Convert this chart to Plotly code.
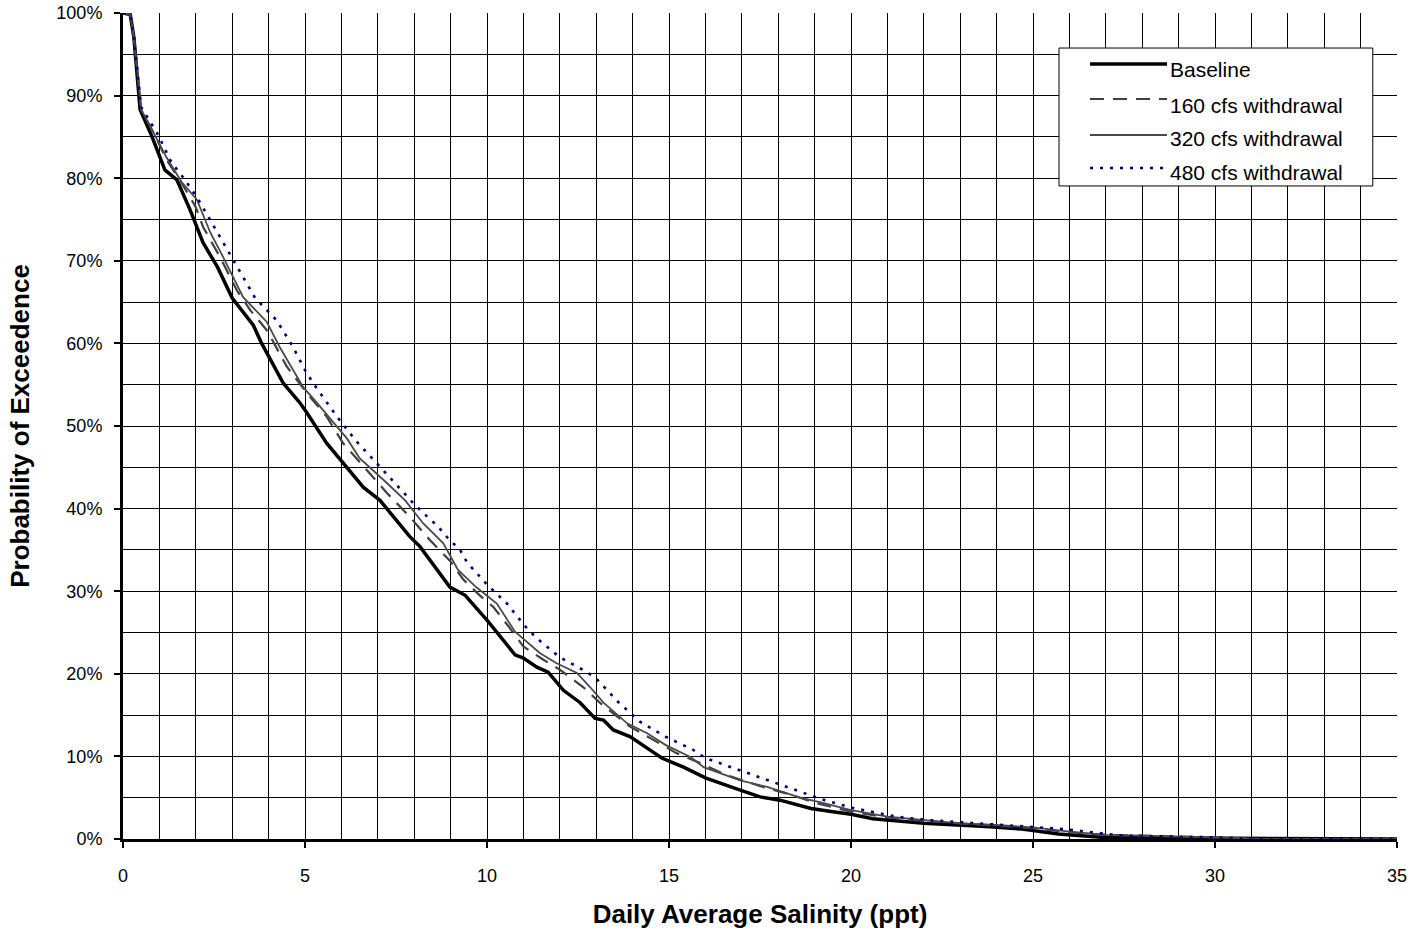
import plotly.graph_objects as go

# Baseline
base_x = [0, 0.2, 0.3, 0.47, 0.8, 1.15, 1.48, 1.84, 2.2, 2.6, 3.0, 3.58, 3.81, 4.4, 4.86, 5.05,
          5.6, 6.15, 6.6, 7.06, 7.42, 7.88, 8.16, 8.63, 8.98, 9.4, 10.0, 10.77, 11.0, 11.37,
          11.68, 12.1, 12.56, 12.97, 13.2, 13.47, 13.93, 14.4, 14.8, 15.4, 16.0, 16.7, 17.5,
          18.05, 18.6, 18.9, 19.5, 20.0, 20.6, 22.0, 23.7, 24.7, 25.7, 26.5, 26.9, 28.0, 30.8, 31.0, 35.0]
base_y = [100, 99.8, 97, 88.3, 85, 81, 79.8, 76.2, 72.2, 69.2, 65.5, 62.2, 60.0, 55.2, 52.8, 51.6,
          47.9, 45.0, 42.6, 41.0, 39.0, 36.6, 35.4, 32.6, 30.5, 29.5, 26.5, 22.3, 21.9, 20.8,
          20.2, 18.0, 16.5, 14.6, 14.4, 13.2, 12.4, 11.0, 9.8, 8.7, 7.4, 6.3, 5.1,
          4.7, 4.0, 3.7, 3.3, 3.0, 2.45, 1.9, 1.5, 1.2, 0.6, 0.3, 0.2, 0.15, 0.1, 0.0, 0.0]

# 160 cfs withdrawal
w160_x = [0, 0.2, 0.3, 0.5, 0.9, 1.2, 1.6, 2.0, 2.2, 2.66, 3.13, 3.5, 3.95, 4.5, 5.05, 5.6, 6.05,
          6.7, 7.25, 7.88, 8.43, 8.98, 9.35, 9.8, 10.17, 10.6, 11.0, 11.55, 12.0, 12.64, 13.1,
          13.47, 13.93, 14.57, 15.2, 15.85, 16.6, 17.58, 18.4, 19.0, 20.0, 21.0, 22.0, 23.0,
          24.0, 25.0, 26.0, 27.0, 28.0, 30.0, 30.8, 31.0, 35.0]
w160_y = [100, 99.8, 97, 88.3, 85, 82.2, 79.5, 76.5, 74.1, 70.5, 66.4, 64.0, 61.6, 57.2, 54.0, 51.1, 47.9,
          44.7, 41.9, 39.0, 36.2, 33.7, 31.4, 29.5, 28.1, 25.7, 23.3, 21.7, 20.5, 18.4, 16.5,
          15.2, 13.6, 12.0, 10.4, 9.2, 7.7, 6.3, 5.3, 4.4, 3.3, 2.6, 2.2, 1.9,
          1.6, 1.3, 0.8, 0.5, 0.4, 0.2, 0.1, 0.0, 0.0]

# 320 cfs withdrawal
w320_x = [0, 0.2, 0.3, 0.5, 0.9, 1.2, 1.6, 2.03, 2.4, 2.7, 3.3, 3.95, 4.3, 4.95, 5.27, 5.87, 6.15,
          6.5, 6.78, 7.25, 7.75, 8.25, 8.8, 9.2, 9.7, 10.27, 10.77, 11.46, 11.9, 12.47, 12.83,
          13.2, 13.85, 14.4, 14.9, 15.6, 15.95, 16.95, 17.7, 18.6, 19.2, 20.0, 21.0, 22.0, 23.0,
          24.0, 25.0, 26.0, 27.0, 28.0, 30.0, 30.8, 31.0, 35.0]
w320_y = [100, 99.8, 97, 88.3, 85, 82.5, 79.6, 77.4, 73.4, 70.9, 65.6, 62.6, 59.6, 54.7, 53.1, 49.9, 48.5,
          46.1, 45.0, 43.1, 41.0, 38.2, 35.8, 32.6, 30.5, 28.5, 25.1, 22.5, 21.3, 20.1, 18.4,
          16.5, 14.0, 12.8, 11.4, 9.9, 8.7, 7.1, 6.3, 5.0, 4.4, 3.5, 2.7, 2.3, 1.9,
          1.7, 1.4, 0.9, 0.5, 0.4, 0.2, 0.1, 0.0, 0.0]

# 480 cfs withdrawal
w480_x = [0, 0.2, 0.3, 0.5, 0.97, 1.34, 1.57, 2.03, 2.44, 3.03, 3.63, 4.22, 4.64, 5.0, 5.22, 5.9,
          6.42, 6.97, 7.52, 8.05, 8.66, 8.93, 9.26, 9.45, 10.0, 10.55, 10.8, 11.1, 11.37, 12.0,
          12.75, 13.05, 13.6, 14.2, 14.9, 15.66, 16.0, 16.76, 17.7, 18.2, 19.2, 20.0, 21.25,
          22.1, 23.7, 25.85, 26.65, 27.5, 30.0, 30.8, 31.0, 35.0]
w480_y = [100, 99.8, 97, 88.6, 85.2, 81.8, 80.6, 77.7, 74.6, 70.1, 65.5, 62.8, 59.8, 56.8, 55.2, 51.0,
          48.1, 45.5, 42.9, 40.3, 37.8, 36.4, 35.0, 33.5, 30.8, 28.5, 27.1, 25.5, 24.3, 22.0,
          20.2, 19.2, 16.6, 14.2, 12.4, 10.8, 9.8, 8.6, 7.1, 6.3, 4.8, 3.8, 2.7,
          2.3, 1.8, 1.2, 0.8, 0.4, 0.2, 0.1, 0.0, 0.0]

series_names = ["Baseline", "160 cfs withdrawal", "320 cfs withdrawal", "480 cfs withdrawal"]
x_ticks = [0, 5, 10, 15, 20, 25, 30, 35]
y_ticks = [0, 10, 20, 30, 40, 50, 60, 70, 80, 90, 100]
y_ticktext = [f"{v}%" for v in y_ticks]

styles = [
    dict(color="#000000", width=3.5, dash="solid"),
    dict(color="#404040", width=2.2, dash="14px,9px"),
    dict(color="#4a4a4a", width=1.8, dash="solid"),
    dict(color="#000080", width=2.6, dash="3px,7px"),
]

FONT = "Liberation Sans, Arial, sans-serif"
fig = go.Figure()
data = [(base_x, base_y), (w160_x, w160_y), (w320_x, w320_y), (w480_x, w480_y)]
for i in range(4):
    xs, ys = data[i]
    fig.add_trace(go.Scatter(x=xs, y=ys, mode="lines", name=series_names[i],
                             line=dict(**styles[i]), showlegend=False))

# manual legend (paper coords)
L, R, T, B = 0.7347, 0.981, 0.9576, 0.7906
fig.add_shape(type="rect", xref="paper", yref="paper", x0=L, x1=R, y0=B, y1=T,
              line=dict(color="black", width=1), fillcolor="white", layer="above")
line_y = [0.9383, 0.8959, 0.8523, 0.8123]
text_y = [0.9322, 0.8886, 0.8475, 0.8063]
lx0, lx1, tx = (1090 - 123) / 1274, (1167 - 123) / 1274, (1168 - 123) / 1274
for i in range(4):
    fig.add_shape(type="line", xref="paper", yref="paper", x0=lx0, x1=lx1,
                  y0=line_y[i], y1=line_y[i], line=dict(**styles[i]), layer="above")
    fig.add_annotation(xref="paper", yref="paper", x=tx, y=text_y[i], text=series_names[i],
                       showarrow=False, xanchor="left", yanchor="middle",
                       font=dict(family=FONT, size=21, color="black"))

fig.update_layout(
    width=1411, height=935,
    margin=dict(l=123, r=14, t=13, b=96),
    paper_bgcolor="white", plot_bgcolor="white",
    font=dict(family=FONT, size=18, color="black"),
    xaxis=dict(range=[0, 35], tickvals=x_ticks, ticks="outside", ticklen=6, tickwidth=2,
               tickcolor="black", showgrid=True, gridcolor="black", gridwidth=1,
               minor=dict(dtick=1, showgrid=True, gridcolor="black", gridwidth=1, ticks=""),
               showline=True, linecolor="black", linewidth=3, zeroline=False,
               ticklabelstandoff=12, automargin=False,
               tickfont=dict(family=FONT, size=18),
               title=dict(text="<b>Daily Average Salinity (ppt)</b>", standoff=21,
                          font=dict(family=FONT, size=26))),
    yaxis=dict(range=[0, 100], tickvals=y_ticks, ticktext=y_ticktext, ticks="outside", ticklen=6,
               tickwidth=2, tickcolor="black", showgrid=True, gridcolor="black", gridwidth=1,
               minor=dict(dtick=5, showgrid=True, gridcolor="black", gridwidth=1, ticks=""),
               showline=True, linecolor="black", linewidth=3, zeroline=False,
               ticklabelstandoff=8, automargin=False,
               tickfont=dict(family=FONT, size=18),
               title=dict(text="<b>Probability of Exceedence</b>", standoff=20,
                          font=dict(family=FONT, size=26))),
)
fig.write_html("out.html")
